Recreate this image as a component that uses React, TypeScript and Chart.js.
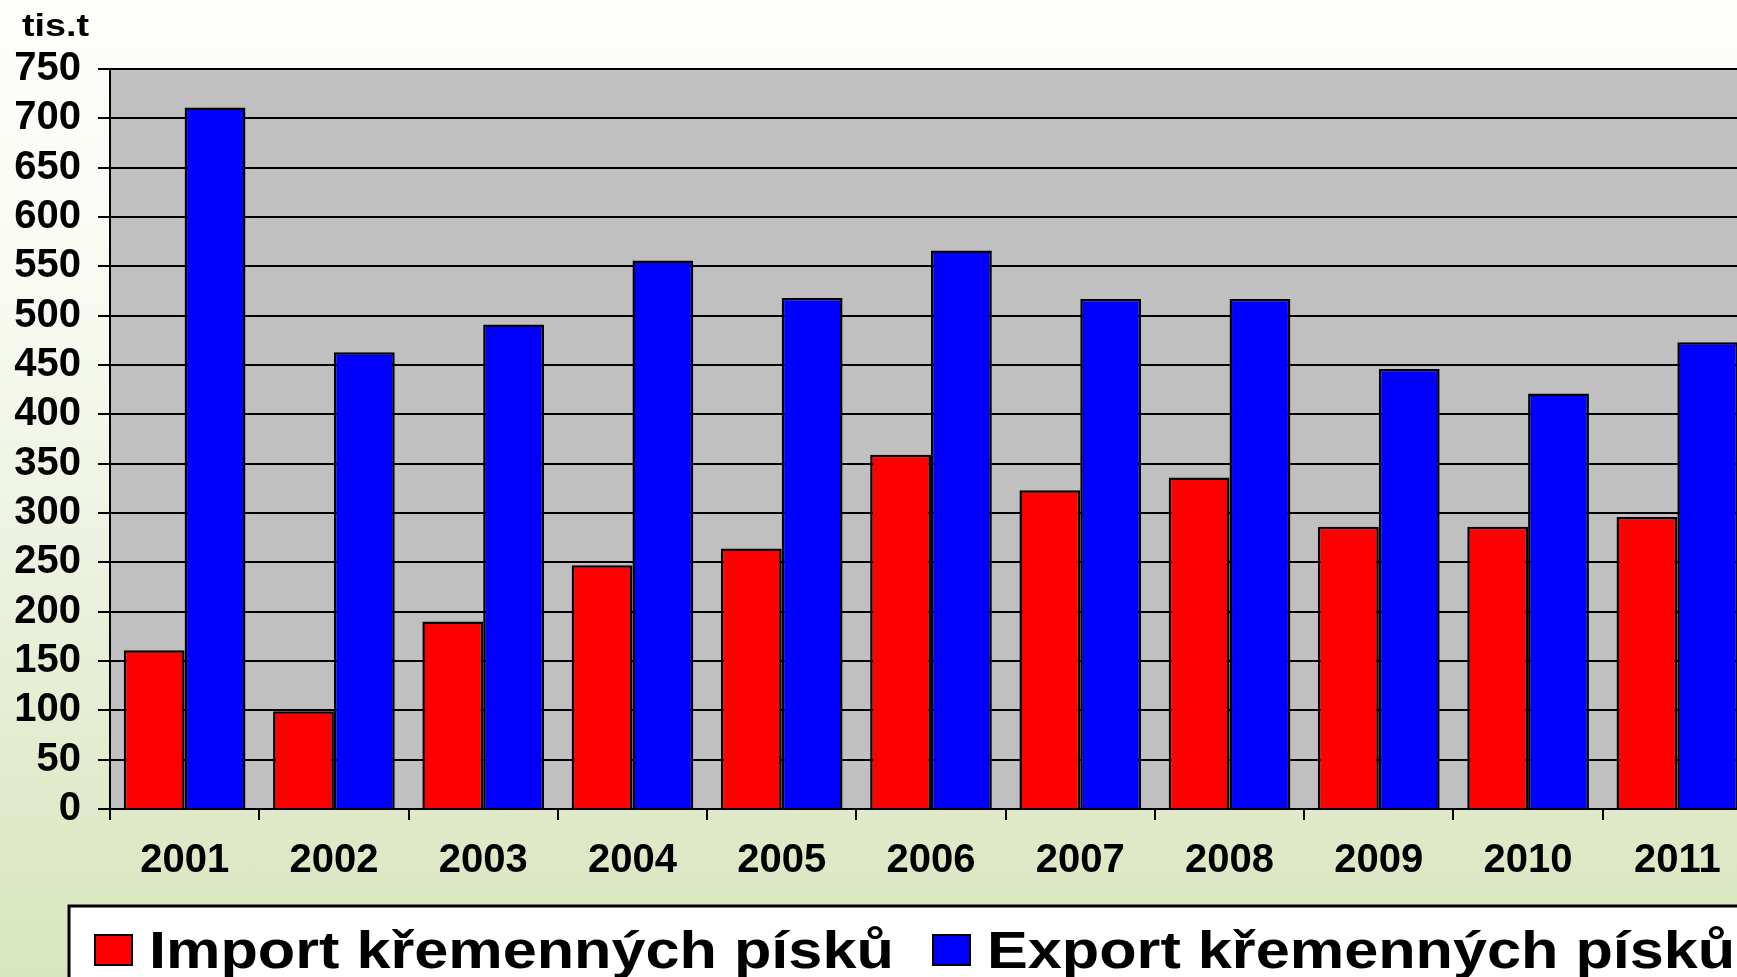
import React, { useEffect, useRef } from "react";
import { Chart, registerables } from "chart.js";

Chart.register(...registerables);

// ---- data ----
const categories = ["2001", "2002", "2003", "2004", "2005", "2006", "2007", "2008", "2009", "2010", "2011"];
const importValues = [161, 99, 190, 247, 264, 359, 323, 336, 286, 286, 296];
const exportValues = [711, 463, 491, 556, 518, 566, 517, 517, 446, 421, 473];
const seriesLabels = ["Import křemenných písků", "Export křemenných písků"];
const seriesColors = ["#ff0000", "#0000ff"];
const yMin = 0;
const yMax = 750;
const yStep = 50;
const unitLabel = "tis.t";

const FONT = '"Liberation Sans", Arial, Helvetica, sans-serif';
const CANVAS_W = 1770;
const CANVAS_H = 977;

const plotBackground = {
  id: "plotBackground",
  beforeDraw(chart: any) {
    const { ctx, chartArea } = chart;
    ctx.save();
    ctx.fillStyle = "#c0c0c0";
    ctx.fillRect(chartArea.left, chartArea.top, chartArea.right - chartArea.left, chartArea.bottom - chartArea.top);
    ctx.restore();
  },
};

const unitTitle = {
  id: "unitTitle",
  afterDraw(chart: any) {
    const ctx = chart.ctx;
    ctx.save();
    ctx.font = `bold 32px ${FONT}`;
    ctx.fillStyle = "#000";
    ctx.textBaseline = "alphabetic";
    ctx.textAlign = "left";
    ctx.translate(22, 36);
    ctx.scale(1.18, 1);
    ctx.fillText(unitLabel, 0, 0);
    ctx.restore();
  },
};

const legendItemX = [95, 933];
const boxedLegend = {
  id: "boxedLegend",
  afterDraw(chart: any) {
    const ctx = chart.ctx;
    ctx.save();
    const boxLeft = 69;
    const boxTop = 906;
    ctx.fillStyle = "#ffffff";
    ctx.fillRect(boxLeft, boxTop, chart.width, chart.height);
    ctx.lineWidth = 3;
    ctx.strokeStyle = "#000";
    ctx.strokeRect(boxLeft, boxTop, chart.width, chart.height);
    ctx.font = `bold 51px ${FONT}`;
    ctx.textBaseline = "alphabetic";
    ctx.textAlign = "left";
    chart.data.datasets.forEach((ds: any, i: number) => {
      const x = legendItemX[i];
      ctx.fillStyle = ds.backgroundColor;
      ctx.fillRect(x, 935, 37, 30);
      ctx.lineWidth = 2;
      ctx.strokeStyle = "#000";
      ctx.strokeRect(x, 935, 37, 30);
      ctx.save();
      ctx.translate(x + 37 + 17, 968);
      ctx.scale(1.2, 1);
      ctx.fillStyle = "#000";
      ctx.fillText(ds.label, 0, 0);
      ctx.restore();
    });
    ctx.restore();
  },
};

export default function App() {
  const canvasRef = useRef<HTMLCanvasElement | null>(null);

  useEffect(() => {
    const canvas = canvasRef.current;
    if (!canvas) return;
    const chart = new Chart(canvas, {
      type: "bar",
      data: {
        labels: categories,
        datasets: [
          {
            label: seriesLabels[0],
            data: importValues,
            backgroundColor: seriesColors[0],
            borderColor: "#000",
            borderWidth: 2.5,
            categoryPercentage: 0.815,
            barPercentage: 1.0,
          },
          {
            label: seriesLabels[1],
            data: exportValues,
            backgroundColor: seriesColors[1],
            borderColor: "#000",
            borderWidth: 2.5,
            categoryPercentage: 0.815,
            barPercentage: 1.0,
          },
        ],
      },
      options: {
        animation: false,
        responsive: false,
        maintainAspectRatio: false,
        layout: { padding: { left: 0, top: 69, right: 18, bottom: 85 } },
        plugins: {
          legend: { display: false },
          tooltip: { enabled: false },
          title: { display: false },
        },
        scales: {
          x: {
            type: "category",
            grid: {
              display: true,
              drawOnChartArea: false,
              drawTicks: true,
              tickLength: 11,
              color: "#000",
              lineWidth: 2,
              offset: true,
            },
            border: { display: true, color: "#000", width: 2 },
            ticks: {
              color: "#000",
              font: { family: FONT, size: 40, weight: "bold" },
              padding: 17,
              maxRotation: 0,
              autoSkip: false,
            },
            afterFit: (scale: any) => {
              scale.height = 83;
            },
          },
          y: {
            min: yMin,
            max: yMax,
            ticks: {
              stepSize: yStep,
              color: "#000",
              font: { family: FONT, size: 40, weight: "bold" },
              padding: 17,
              autoSkip: false,
            },
            grid: { color: "#000", lineWidth: 2, tickLength: 12, drawTicks: true },
            border: { display: true, color: "#000", width: 2 },
            afterFit: (scale: any) => {
              scale.width = 110;
            },
          },
        },
      } as any,
      plugins: [plotBackground, unitTitle, boxedLegend],
    });
    return () => chart.destroy();
  }, []);

  return (
    <div
      style={{
        position: "fixed",
        left: 0,
        top: 0,
        width: 1737,
        height: 977,
        overflow: "hidden",
        background:
          "linear-gradient(to bottom, #fefefb 0%, #f8faf1 30%, #ebf1dd 60%, #dfe9c8 85%, #d9e5c0 100%)",
      }}
    >
      <canvas
        ref={canvasRef}
        width={CANVAS_W}
        height={CANVAS_H}
        style={{ display: "block", width: CANVAS_W, height: CANVAS_H }}
      />
    </div>
  );
}
